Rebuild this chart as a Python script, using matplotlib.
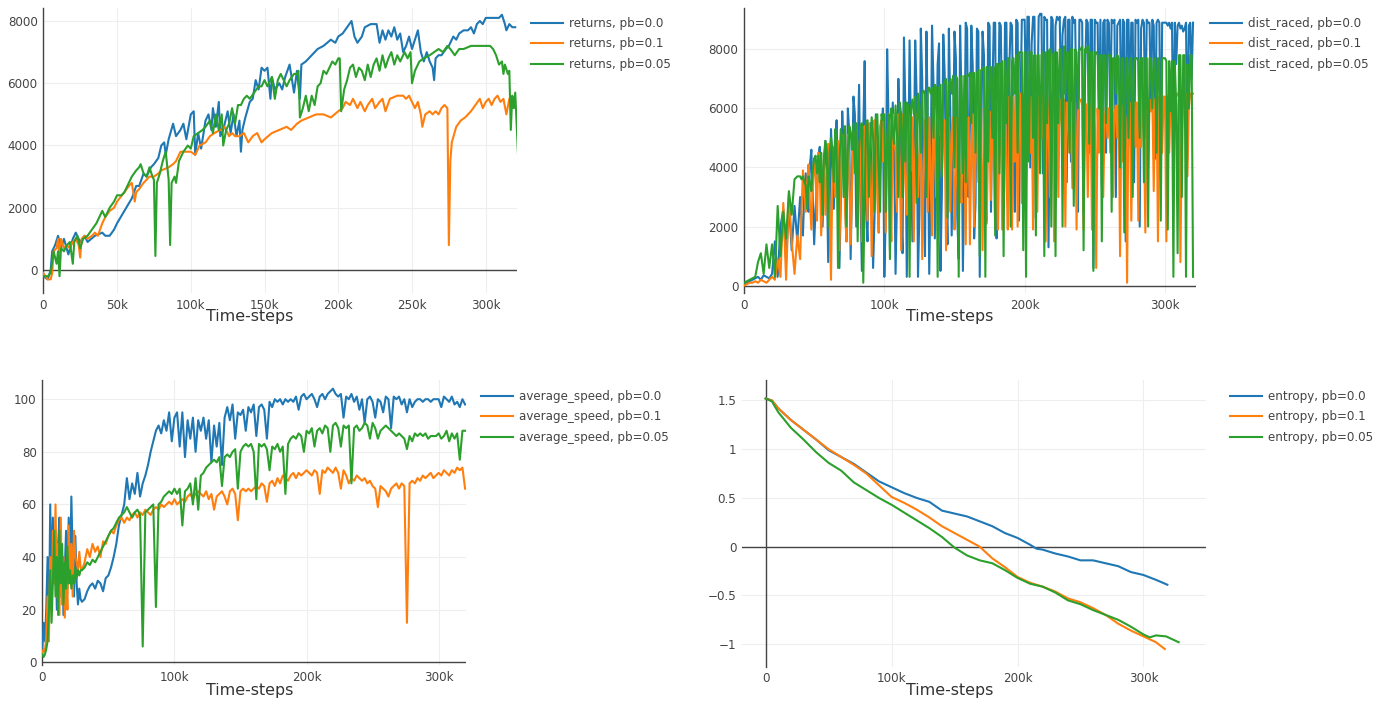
import numpy as np
import matplotlib
matplotlib.use("Agg")
import matplotlib.pyplot as plt
from matplotlib.ticker import FuncFormatter

plt.rcParams['font.family'] = ['DejaVu Sans']

C0, C1, C2 = '#1f77b4', '#ff7f0e', '#2ca02c'
pbs = ['0.0', '0.1', '0.05']

# ---------------- returns (steps in k) ----------------
ret_x_pb00 = [0, 3, 5, 6, 8, 10, 12, 14, 17, 20,
              22, 25, 28, 30, 35, 40, 42, 45, 48, 50,
              55, 60, 63, 65, 68, 70, 73, 75, 78, 80,
              82, 83, 85, 88, 90, 93, 95, 97, 100, 102,
              103, 105, 107, 110, 112, 114, 115, 117, 119, 120,
              122, 125, 127, 129, 131, 133, 134, 135, 137, 140,
              142, 144, 146, 148, 150, 152, 154, 155, 157, 160,
              162, 164, 167, 170, 172, 174, 175, 178, 182, 186,
              190, 195, 198, 200, 203, 206, 209, 211, 213, 216,
              218, 222, 226, 228, 230, 232, 234, 236, 238, 240,
              242, 244, 246, 248, 250, 252, 254, 256, 258, 260,
              262, 264, 265, 266, 268, 270, 273, 275, 278, 280,
              282, 285, 288, 290, 292, 294, 296, 298, 300, 303,
              306, 309, 311, 313, 314, 316, 318, 320]
ret_y_pb00 = [-200, -300, 0, 600, 800, 1100, 700, 1000, 500, 1000,
              1200, 900, 1100, 900, 1100, 1200, 1100, 1100, 1300, 1500,
              1900, 2300, 2700, 2700, 3100, 3000, 3300, 3400, 3600, 4000,
              4100, 3700, 4200, 4700, 4300, 4500, 4700, 4200, 5000, 5100,
              3700, 4400, 3900, 4800, 5000, 4500, 5200, 4600, 5400, 4300,
              4500, 5100, 4400, 5000, 4300, 4800, 3800, 4500, 4900, 5400,
              5500, 6100, 5800, 6500, 6400, 6500, 5500, 6200, 5800, 6000,
              5800, 6200, 6600, 5700, 6400, 5500, 6600, 6700, 6900, 7100,
              7200, 7400, 7300, 7500, 7600, 7800, 8000, 7500, 7300, 7500,
              7800, 7900, 7900, 7300, 7700, 7400, 7700, 7500, 7800, 7400,
              7600, 7000, 7200, 7500, 7100, 7400, 7700, 7000, 6700, 7000,
              6700, 6500, 6100, 6800, 6900, 6900, 7100, 7200, 7500, 7400,
              7600, 7700, 7700, 7800, 7600, 7900, 8000, 7900, 8100, 8100,
              8100, 8100, 8200, 7900, 7700, 7900, 7800, 7800]

ret_x_pb01 = [0, 3, 5, 6, 7, 9, 10, 11, 12, 14,
              16, 18, 20, 22, 24, 25, 26, 28, 30, 33,
              35, 37, 40, 42, 45, 48, 50, 55, 58, 60,
              62, 63, 65, 68, 70, 72, 75, 78, 80, 85,
              88, 90, 93, 96, 100, 103, 106, 110, 113, 116,
              120, 123, 126, 128, 130, 133, 136, 139, 142, 145,
              148, 150, 155, 160, 165, 168, 172, 175, 180, 185,
              190, 195, 200, 203, 205, 208, 210, 213, 215, 218,
              220, 223, 225, 228, 230, 232, 235, 240, 244, 246,
              248, 250, 252, 254, 256, 257, 259, 262, 264, 266,
              268, 270, 272, 274, 275, 276, 277, 280, 283, 286,
              290, 293, 296, 298, 300, 302, 304, 306, 308, 310,
              312, 314, 316, 318, 320]
ret_y_pb01 = [-100, -300, -300, -100, 600, 700, 1000, 400, 1000, 700,
              800, 700, 900, 1000, 800, 400, 1000, 1100, 1000, 1100,
              1200, 1100, 1500, 1700, 1900, 2000, 2200, 2500, 2700, 2800,
              2200, 2500, 2600, 2800, 2900, 3000, 3000, 3100, 3200, 3300,
              3400, 3500, 3800, 3800, 3800, 3700, 4000, 4100, 4300, 4400,
              4500, 4600, 4300, 4400, 4300, 4300, 4400, 4100, 4300, 4400,
              4100, 4200, 4400, 4500, 4600, 4500, 4700, 4800, 4900, 5000,
              5000, 4900, 5100, 5200, 5400, 5300, 5500, 5200, 5400, 5100,
              5300, 5500, 5200, 5400, 5500, 5100, 5500, 5600, 5600, 5500,
              5600, 5400, 5200, 5400, 5000, 4600, 5000, 5100, 5000, 5100,
              5000, 5200, 5300, 5200, 800, 3500, 4100, 4600, 4800, 4900,
              5100, 5300, 5500, 5200, 5400, 5500, 5300, 5500, 5600, 5400,
              5500, 5000, 5500, 5300, 5400]

ret_x_pb005 = [0, 3, 5, 7, 9, 10, 11, 12, 14, 16,
               18, 20, 21, 23, 25, 27, 30, 33, 36, 39,
               40, 42, 45, 48, 50, 53, 55, 58, 60, 63,
               65, 66, 68, 70, 72, 74, 75, 76, 77, 79,
               81, 83, 85, 86, 87, 89, 90, 92, 95, 98,
               100, 102, 105, 108, 110, 113, 115, 117, 119, 121,
               122, 124, 126, 128, 130, 132, 134, 136, 138, 140,
               143, 146, 148, 150, 152, 155, 157, 159, 161, 163,
               165, 167, 170, 172, 173, 174, 176, 178, 180, 182,
               184, 186, 188, 190, 192, 194, 196, 198, 200, 201,
               202, 204, 206, 208, 210, 212, 214, 216, 218, 220,
               222, 224, 226, 228, 230, 232, 234, 236, 238, 240,
               242, 245, 247, 249, 250, 252, 255, 258, 262, 265,
               268, 271, 274, 276, 279, 282, 285, 290, 295, 300,
               303, 305, 307, 309, 311, 312, 313, 315, 316, 317,
               318, 319, 320, 322]
ret_y_pb005 = [-200, -200, -100, 600, 200, 600, -200, 700, 600, 800,
               900, 200, 900, 1100, 700, 1000, 1100, 1300, 1500, 1800,
               1900, 1700, 2000, 2200, 2400, 2400, 2500, 2800, 3000, 3200,
               3300, 3400, 3100, 3000, 3300, 3000, 2900, 450, 2800, 3100,
               3500, 3800, 2900, 800, 2800, 3000, 2800, 3500, 3800, 4000,
               3900, 4300, 4400, 4500, 4600, 4800, 4400, 5000, 4500, 5000,
               4000, 4500, 4700, 5200, 4700, 5300, 5300, 5500, 5600, 5500,
               5700, 5900, 5900, 6100, 5900, 6200, 5500, 6100, 6300, 6100,
               5900, 6100, 6300, 6300, 6400, 4900, 5200, 5600, 5100, 5600,
               5300, 5900, 6000, 6400, 6300, 6500, 6700, 6600, 6800, 6800,
               5100, 5800, 6100, 6500, 6600, 6200, 6500, 6400, 6100, 6600,
               6200, 6600, 6800, 6400, 6900, 6500, 6800, 7000, 6600, 6900,
               6700, 7000, 6800, 7000, 6000, 6400, 6700, 6800, 6900, 7000,
               7100, 7000, 7200, 7100, 6900, 7100, 7100, 7200, 7200, 7200,
               7200, 7100, 6900, 6600, 6700, 6300, 6600, 6300, 6400, 4500,
               5600, 5200, 5700, 3600]

# ---------------- dist_raced (2k grid up to 38k, then every 1k up to 320k) ----------------
dist_steps = np.concatenate([np.arange(0, 40, 2), np.arange(40, 321)])
dist_pb00 = [50, 100, 150, 200, 250, 300, 200, 350, 300, 250, 400, 1500, 300, 2000, 2600, 800, 2800, 1200, 2700, 1500,
             3000, 2200, 1700, 3200, 3800, 2900, 2500, 4100, 4600, 3000, 1400, 2600, 3500, 4400, 4700, 3300, 2000, 3900, 4900, 3800,
             800, 2500, 5300, 4100, 2600, 4800, 5600, 3200, 600, 2900, 5900, 4700, 3000, 1500, 6000, 5200, 900, 3600, 6400, 5800,
             2000, 4300, 6800, 3100, 500, 5200, 7600, 2600, 1500, 4500, 5500, 3300, 600, 2300, 5800, 4800, 1800, 3900, 5200, 6000,
             300, 2400, 8000, 5600, 1200, 3400, 6200, 4500, 400, 2900, 7000, 5300, 2500, 1100, 8400, 6000, 300, 3700, 8300, 5000,
             1500, 4200, 8300, 6500, 300, 2500, 8700, 7000, 2800, 1000, 8600, 5400, 400, 3600, 8800, 6900, 1600, 4400, 7500, 8200,
             500, 3100, 8500, 7200, 3500, 1400, 8700, 6000, 1700, 4600, 8600, 7700, 2300, 900, 8800, 6300, 500, 3800, 8900, 8700,
             3000, 5500, 8800, 7400, 1600, 2800, 8700, 8600, 300, 4800, 8600, 7800, 4000, 2200, 8900, 8800, 2500, 6500, 8900, 8900,
             1600, 5000, 8900, 8800, 4800, 3400, 8900, 8900, 3500, 7200, 8900, 8800, 5000, 2500, 9000, 8900, 2200, 6000, 9000, 9000,
             9000, 6000, 9100, 9100, 4000, 8200, 9100, 9100, 2300, 5500, 9100, 9200, 9200, 3800, 9100, 9000, 9000, 1300, 6000, 9100,
             9000, 3000, 8800, 9100, 9000, 9100, 6000, 8500, 9000, 9100, 3500, 9000, 9000, 4200, 9100, 8900, 9000, 5500, 2500, 9000,
             9000, 8900, 2500, 7000, 9000, 8900, 4500, 9000, 9000, 600, 9000, 8900, 8900, 5000, 9000, 3400, 8900, 9000, 4500, 9000,
             8900, 5500, 9000, 8900, 9000, 3000, 8800, 8900, 9000, 4500, 9000, 8900, 1500, 9000, 9000, 5800, 8900, 8900, 3500, 9000,
             8900, 9000, 2000, 8700, 9000, 8900, 5000, 9000, 8900, 8900, 6000, 9000, 8800, 4300, 8900, 9000, 8900, 3600, 8900, 8900,
             8900, 8900, 8800, 8900, 8700, 8900, 4400, 8900, 7500, 8800, 8900, 8700, 8800, 8600, 8700, 8900, 4300, 8800, 8900, 7000,
             8900]
dist_pb01 = [0, 50, 100, 100, 150, 100, 200, 150, 100, 200, 300, 200, 900, 300, 2800, 200, 3100, 1500, 400, 1700,
             900, 2500, 3900, 3100, 2500, 3500, 4100, 2800, 1900, 3300, 4300, 3700, 2200, 4500, 3900, 1700, 3000, 4400, 2400, 3800,
             4800, 2500, 200, 3700, 4700, 3000, 4200, 4900, 1200, 3500, 5100, 4400, 2600, 1500, 5100, 4000, 1400, 3300, 5200, 4600,
             5300, 3500, 4500, 5200, 1500, 3000, 5400, 4800, 2200, 5500, 4100, 1000, 3800, 5600, 5000, 3000, 1800, 5400, 5600, 4200,
             5700, 1800, 4400, 5800, 3300, 1500, 5800, 5000, 4500, 2500, 5800, 4200, 1200, 5800, 4800, 3500, 2400, 5800, 5100, 3900,
             5700, 1500, 4600, 5800, 3000, 4200, 5500, 900, 3800, 5600, 4900, 2500, 5700, 3600, 1700, 5700, 4500, 3000, 5600, 5100,
             5700, 3900, 5000, 5600, 1200, 4600, 5700, 2500, 5200, 5700, 1900, 3500, 5700, 4700, 3500, 2800, 5700, 5300, 1400, 5600,
             5700, 1400, 4700, 5800, 2000, 4500, 5900, 3500, 5100, 6000, 1200, 4300, 6100, 2100, 5300, 5900, 2900, 6100, 4500, 1900,
             6300, 1900, 4800, 6400, 1900, 5500, 6400, 3800, 1900, 6400, 5200, 1900, 6400, 4200, 6500, 2000, 5400, 6500, 2800, 6400,
             6500, 3500, 6000, 6500, 4500, 6400, 1900, 5500, 6500, 2500, 6400, 5800, 5000, 6500, 4000, 1500, 6400, 5600, 3000, 6300,
             6500, 1500, 5200, 6400, 3000, 6300, 5900, 5000, 6300, 2000, 6200, 5600, 4500, 6200, 3300, 6300, 6200, 1900, 5800, 6200,
             6300, 6200, 1900, 6200, 6100, 3000, 5500, 6100, 1900, 6000, 5300, 600, 6000, 4500, 6100, 6000, 3000, 5600, 6100, 5000,
             6000, 4500, 6000, 3000, 5800, 6100, 5000, 6100, 1000, 6100, 4200, 6100, 5600, 100, 6100, 6200, 2200, 5500, 6200, 4700,
             6200, 2200, 6200, 4700, 6300, 5300, 1800, 6300, 4000, 6300, 5900, 6400, 3200, 6300, 6400, 1500, 6400, 5800, 4500, 6400,
             6400, 1500, 6400, 4500, 6300, 6400, 3700, 6500, 6400, 6500, 6500, 800, 5200, 6500, 6400, 6500, 3700, 6000, 6500, 6500,
             6500]
dist_pb005 = [100, 150, 200, 250, 300, 800, 1100, 400, 1400, 600, 1400, 300, 2700, 1000, 2500, 1600, 3200, 2400, 3600, 3700,
              3700, 3600, 3700, 3500, 3400, 2600, 3700, 3500, 3200, 3900, 4300, 4400, 3800, 4400, 3500, 4500, 2400, 4400, 4900, 4600,
              2000, 4500, 5000, 4600, 3500, 5300, 4800, 600, 4200, 5300, 5000, 3000, 5400, 2000, 4600, 5400, 5200, 4600, 5500, 3800,
              5500, 1500, 4600, 5400, 5500, 100, 3000, 5500, 5600, 3000, 4800, 5700, 5000, 2500, 5700, 5800, 4200, 2500, 5800, 5600,
              5800, 2500, 4900, 5800, 900, 6000, 5200, 4800, 6100, 5200, 3000, 6200, 5800, 3000, 6200, 4200, 6200, 6100, 300, 6000,
              6300, 5800, 6400, 2800, 6500, 6100, 4500, 6500, 6600, 6500, 3000, 6700, 6700, 6500, 6700, 5000, 6800, 6700, 300, 6700,
              6800, 3700, 6800, 6900, 7000, 2300, 6800, 7000, 6500, 7100, 4000, 7100, 7000, 300, 7000, 7100, 3800, 7100, 3500, 7100,
              7100, 7200, 5500, 7200, 7200, 4500, 7200, 7300, 1000, 7300, 7300, 7400, 300, 7400, 4200, 7400, 7400, 5000, 7400, 1700,
              7500, 7500, 3800, 7500, 7600, 1000, 7600, 5500, 7700, 7700, 2000, 7600, 7700, 6500, 7800, 4500, 7900, 7900, 7900, 1200,
              7900, 300, 7900, 4200, 7900, 7900, 5000, 7800, 1700, 7800, 7800, 3800, 7800, 7900, 1000, 7900, 5500, 7900, 8000, 2000,
              7800, 7900, 1000, 7900, 5500, 8000, 8000, 2000, 8100, 6500, 7900, 7900, 4500, 8000, 8000, 2700, 8000, 7900, 6000, 8000,
              8000, 8100, 1200, 8000, 7900, 8100, 4800, 7900, 7900, 500, 7900, 7900, 7800, 6000, 7800, 1500, 7800, 7800, 5500, 7800,
              7800, 7800, 2500, 7700, 7700, 6500, 7800, 7700, 4000, 7700, 7700, 1800, 7700, 7700, 5000, 7700, 7700, 3000, 7600, 7700,
              7700, 7600, 5000, 7700, 7700, 3500, 7700, 7700, 2000, 7700, 7700, 6000, 7600, 7700, 4500, 7700, 7600, 2200, 7700, 7700,
              7700, 7600, 1900, 7600, 5900, 7600, 300, 7600, 6100, 1100, 7800, 7800, 3000, 7800, 7800, 300, 7500, 6000, 7800, 7800,
              300]

# ---------------- average_speed (1k grid to 29k, then 2k grid) ----------------
speed_steps = np.concatenate([np.arange(0, 30), np.arange(30, 322, 2)])
speed_pb00 = [5, 15, 8, 20, 40, 12, 60, 25, 55, 30,
              50, 20, 45, 55, 25, 40, 18, 35, 50, 28,
              55, 32, 63, 40, 25, 48, 30, 22, 28, 24,
              23, 24, 27, 29, 30, 28, 31, 30, 27, 32,
              33, 36, 40, 45, 52, 56, 60, 70, 62, 68,
              64, 72, 63, 68, 71, 75, 80, 84, 88, 90,
              87, 92, 88, 95, 84, 93, 95, 82, 95, 78,
              92, 85, 93, 80, 92, 88, 93, 85, 92, 76,
              90, 82, 91, 75, 93, 97, 92, 98, 85, 95,
              94, 96, 88, 97, 95, 98, 86, 97, 98, 96,
              85, 99, 97, 100, 99, 100, 98, 100, 99, 100,
              99, 101, 96, 101, 102, 100, 101, 102, 100, 97,
              101, 102, 100, 102, 103, 104, 102, 101, 102, 93,
              101, 100, 102, 99, 101, 96, 100, 91, 100, 101,
              99, 93, 100, 99, 95, 101, 100, 89, 101, 100,
              101, 98, 100, 95, 100, 97, 99, 100, 100, 99,
              100, 100, 99, 100, 100, 100, 97, 101, 100, 99,
              101, 98, 99, 97, 100, 98]
speed_pb01 = [3, 5, 4, 10, 25, 8, 40, 20, 50, 30,
              60, 25, 45, 18, 55, 22, 40, 17, 35, 20,
              52, 30, 45, 25, 50, 40, 38, 35, 42, 36,
              35, 38, 43, 40, 45, 42, 44, 40, 46, 45,
              48, 50, 49, 52, 54, 55, 53, 55, 54, 56,
              57, 55, 57, 56, 58, 57, 56, 58, 59, 58,
              60, 59, 60, 61, 60, 62, 60, 61, 62, 61,
              63, 64, 62, 64, 65, 64, 63, 65, 62, 64,
              58, 63, 64, 65, 63, 60, 65, 66, 64, 54,
              65, 66, 65, 66, 65, 66, 67, 66, 68, 67,
              61, 68, 69, 67, 70, 68, 71, 70, 69, 71,
              72, 70, 72, 71, 72, 73, 72, 71, 73, 72,
              64, 73, 72, 74, 73, 72, 74, 72, 66, 73,
              71, 68, 70, 69, 71, 70, 69, 70, 68, 69,
              67, 66, 59, 67, 66, 65, 63, 66, 67, 68,
              66, 68, 67, 15, 68, 69, 68, 70, 69, 71,
              70, 71, 72, 70, 71, 72, 71, 73, 72, 71,
              73, 72, 74, 73, 74, 66]
speed_pb005 = [3, 2, 3, 5, 8, 20, 35, 15, 30, 50,
               25, 40, 18, 50, 30, 45, 22, 38, 28, 44,
               30, 35, 28, 33, 30, 36, 32, 35, 33, 35,
               35, 36, 38, 37, 39, 38, 40, 42, 44, 46,
               48, 50, 51, 53, 55, 56, 57, 59, 57, 55,
               57, 58, 56, 6, 57, 58, 59, 60, 21, 60,
               61, 63, 64, 65, 64, 66, 64, 66, 52, 65,
               66, 68, 60, 70, 58, 71, 72, 74, 75, 76,
               77, 76, 78, 67, 78, 79, 78, 80, 81, 66,
               80, 82, 83, 82, 83, 80, 62, 83, 82, 83,
               81, 73, 82, 81, 83, 80, 82, 64, 83, 85,
               86, 85, 87, 86, 80, 88, 87, 89, 82, 88,
               89, 87, 90, 89, 80, 90, 91, 89, 82, 90,
               89, 90, 68, 89, 90, 88, 89, 91, 90, 85,
               91, 89, 85, 88, 89, 90, 89, 88, 87, 86,
               87, 86, 85, 81, 86, 84, 87, 86, 87, 86,
               87, 85, 86, 86, 86, 87, 85, 86, 88, 84,
               87, 85, 87, 77, 88, 88]

# ---------------- entropy ----------------
ent_x_pb00 = [0, 5, 10, 20, 30, 40, 50, 60, 70, 80, 90, 100, 110, 120, 130, 140, 150, 160,
              170, 180, 190, 200, 210, 215, 220, 230, 240, 250, 260, 270, 280, 290, 300, 310, 319]
ent_y_pb00 = [1.52, 1.50, 1.42, 1.30, 1.20, 1.10, 0.99, 0.92, 0.85, 0.76, 0.67, 0.61, 0.55,
              0.50, 0.46, 0.37, 0.34, 0.31, 0.26, 0.21, 0.14, 0.09, 0.02, -0.02, -0.03, -0.07,
              -0.10, -0.14, -0.14, -0.17, -0.20, -0.26, -0.29, -0.34, -0.39]
ent_x_pb01 = [0, 5, 10, 20, 30, 40, 50, 60, 70, 80, 90, 100, 110, 120, 130, 140, 150, 160,
              170, 180, 190, 200, 210, 220, 230, 240, 250, 260, 270, 280, 290, 300, 310, 317]
ent_y_pb01 = [1.52, 1.50, 1.42, 1.30, 1.20, 1.10, 1.00, 0.92, 0.84, 0.75, 0.63, 0.51, 0.45,
              0.38, 0.30, 0.21, 0.14, 0.07, 0.00, -0.12, -0.21, -0.31, -0.37, -0.41, -0.46,
              -0.53, -0.57, -0.63, -0.70, -0.79, -0.86, -0.92, -0.98, -1.05]
ent_x_pb005 = [0, 5, 10, 20, 30, 40, 50, 60, 70, 80, 90, 100, 110, 120, 130, 140, 150, 160,
               170, 180, 190, 200, 210, 220, 230, 240, 250, 260, 270, 280, 290, 300, 305, 310,
               318, 328]
ent_y_pb005 = [1.52, 1.49, 1.38, 1.22, 1.10, 0.97, 0.86, 0.78, 0.66, 0.58, 0.50, 0.43, 0.35,
               0.27, 0.19, 0.10, -0.01, -0.09, -0.14, -0.17, -0.24, -0.32, -0.38, -0.41,
               -0.47, -0.55, -0.59, -0.65, -0.70, -0.75, -0.82, -0.90, -0.93, -0.91, -0.92,
               -0.98]


def kfmt(v, _):
    return '0' if v == 0 else f'{int(round(v / 1000))}k'


def gfmt(v, _):
    return f'{v:g}'.replace('-', '\u2212')


def style(ax, xlim, ylim, xticks, yticks):
    ax.set_xlim(*xlim)
    ax.set_ylim(*ylim)
    ax.set_xticks(xticks)
    ax.set_yticks(yticks)
    ax.xaxis.set_major_formatter(FuncFormatter(kfmt))
    ax.yaxis.set_major_formatter(FuncFormatter(gfmt))
    for s in ax.spines.values():
        s.set_visible(False)
    ax.grid(color='#eeeeee', lw=0.8)
    ax.set_axisbelow(True)
    ax.tick_params(length=0, colors='#444444', labelsize=8.6)
    ax.tick_params(axis='x', pad=4)
    ax.tick_params(axis='y', pad=4)
    ax.axhline(0, color='#444444', lw=1.0, zorder=1.5)
    ax.axvline(0, color='#444444', lw=1.0, zorder=1.5, clip_on=False)


def add_legend(ax, x_px, top_px):
    ax.legend(loc='upper left', bbox_to_anchor=(x_px / 1396, 1 - top_px / 702),
              bbox_transform=fig.transFigure, frameon=False, fontsize=8.6,
              handlelength=2.65, handletextpad=0.5, labelspacing=0.62,
              borderpad=0, borderaxespad=0, labelcolor='#444444')


fig = plt.figure(figsize=(13.96, 7.02), dpi=100)
ax1 = fig.add_axes([0.03102, 0.58262, 0.33911, 0.40556])
ax2 = fig.add_axes([0.53295, 0.58262, 0.32357, 0.40556])
ax3 = fig.add_axes([0.03030, 0.05271, 0.30351, 0.40598])
ax4 = fig.add_axes([0.53152, 0.05028, 0.33238, 0.40840])

lw = 1.5
k = 1000

for xs, ys, c, pb in [(ret_x_pb00, ret_y_pb00, C0, pbs[0]),
                      (ret_x_pb01, ret_y_pb01, C1, pbs[1]),
                      (ret_x_pb005, ret_y_pb005, C2, pbs[2])]:
    ax1.plot(np.array(xs) * k, ys, color=c, lw=lw, label=f'returns, pb={pb}')
style(ax1, (0, 321000), (-739, 8408), np.arange(0, 300001, 50000), np.arange(0, 8001, 2000))
add_legend(ax1, 531, 17)

for ys, c, pb in [(dist_pb00, C0, pbs[0]), (dist_pb01, C1, pbs[1]), (dist_pb005, C2, pbs[2])]:
    ax2.plot(dist_steps * k, ys, color=c, lw=lw, label=f'dist_raced, pb={pb}')
style(ax2, (0, 321900), (-247, 9387), np.arange(0, 300001, 100000), np.arange(0, 8001, 2000))
add_legend(ax2, 1210, 17)

for ys, c, pb in [(speed_pb00, C0, pbs[0]), (speed_pb01, C1, pbs[1]), (speed_pb005, C2, pbs[2])]:
    ax3.plot(speed_steps * k, ys, color=c, lw=lw, label=f'average_speed, pb={pb}')
style(ax3, (0, 320700), (-1.03, 107.3), np.arange(0, 300001, 100000), np.arange(0, 101, 20))
add_legend(ax3, 481, 390)

for xs, ys, c, pb in [(ent_x_pb00, ent_y_pb00, C0, pbs[0]),
                      (ent_x_pb01, ent_y_pb01, C1, pbs[1]),
                      (ent_x_pb005, ent_y_pb005, C2, pbs[2])]:
    ax4.plot(np.array(xs) * k, ys, color=c, lw=lw, label=f'entropy, pb={pb}')
style(ax4, (-18800, 349700), (-1.231, 1.710), np.arange(0, 300001, 100000), [-1, -0.5, 0, 0.5, 1, 1.5])
add_legend(ax4, 1230, 390)

for xp, yp in [(250, 317), (950, 317), (250, 690), (950, 690)]:
    fig.text(xp / 1396, 1 - yp / 702, 'Time-steps', ha='center', va='center',
             fontsize=11.4, color='#333333')

fig.savefig('out.png', dpi=100)
